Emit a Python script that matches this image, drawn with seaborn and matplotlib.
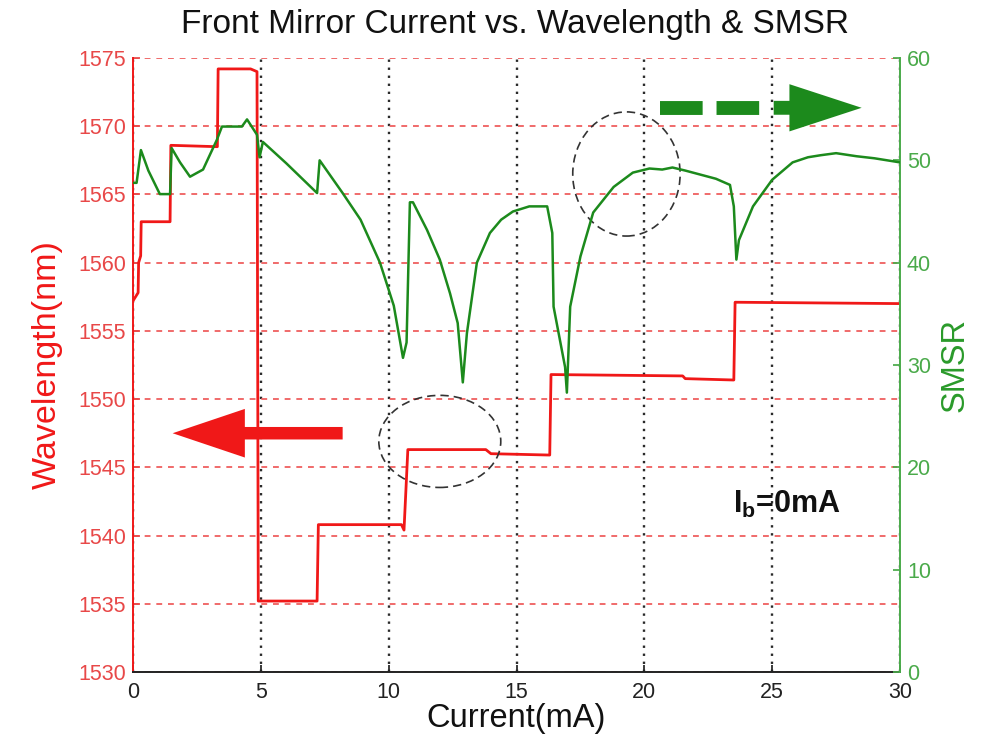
import matplotlib
matplotlib.use("Agg")
import matplotlib.pyplot as plt
from matplotlib.patches import Ellipse
import seaborn as sns
import pandas as pd

# Front mirror current sweep (mA) and lasing wavelength (nm)
current_wl = [0.0, 0.2, 0.22, 0.3, 0.32, 1.45, 1.48, 3.3, 3.33, 4.6, 4.85, 4.9,
              7.2, 7.25, 10.5, 10.6, 10.75, 13.8, 14.0, 16.3, 16.35, 21.5, 21.6,
              23.5, 23.55, 30.0]
wavelength = [1557.2, 1557.8, 1560.0, 1560.5, 1563.0, 1563.0, 1568.6, 1568.5,
              1574.2, 1574.2, 1574.0, 1535.2, 1535.2, 1540.8, 1540.8, 1540.4,
              1546.3, 1546.3, 1546.0, 1545.9, 1551.8, 1551.7, 1551.5, 1551.4,
              1557.1, 1557.0]

# Side-mode suppression ratio (dB) over the same sweep
current_smsr = [0.0, 0.14, 0.31, 0.6, 1.05, 1.45, 1.51, 1.84, 2.23, 2.74,
                3.0, 3.28, 3.48, 3.9, 4.26, 4.46, 4.85, 4.95, 5.08, 6.0,
                7.2, 7.3, 8.2, 8.9, 9.66, 10.2, 10.56, 10.7, 10.83, 10.95,
                11.5, 12.0, 12.4, 12.7, 12.9, 13.06, 13.45, 13.96, 14.4, 14.86,
                15.5, 16.2, 16.4, 16.45, 16.9, 16.97, 17.1, 17.5, 18.0, 18.8,
                19.55, 20.2, 20.7, 21.1, 21.6, 22.2, 22.8, 23.35, 23.5, 23.6,
                23.7, 24.25, 25.0, 25.8, 26.4, 26.9, 27.5, 28.3, 29.0, 30.0]
smsr = [47.8, 47.8, 51.0, 49.0, 46.7, 46.7, 51.2, 49.8, 48.4, 49.1,
        50.5, 52.0, 53.3, 53.3, 53.3, 54.0, 52.5, 50.3, 51.8, 49.7,
        46.8, 50.0, 46.8, 44.2, 40.0, 35.8, 30.7, 32.2, 45.9, 45.9,
        43.2, 40.3, 37.0, 34.1, 28.3, 33.1, 40.0, 42.9, 44.2, 45.0,
        45.5, 45.5, 42.9, 35.7, 29.8, 27.3, 35.7, 40.6, 44.9, 47.4,
        48.8, 49.2, 49.1, 49.3, 49.0, 48.6, 48.2, 47.6, 45.5, 40.3,
        42.2, 45.5, 48.1, 49.8, 50.3, 50.5, 50.7, 50.4, 50.2, 49.8]

x_ticks = [0, 5, 10, 15, 20, 25, 30]
wl_ticks = [1530, 1535, 1540, 1545, 1550, 1555, 1560, 1565, 1570, 1575]
smsr_ticks = [0, 10, 20, 30, 40, 50, 60]

RED = "#f01818"
RED_TXT = "#e84848"
GREEN = "#1c8a1c"
GREEN_AX = "#4aaa4a"

sns.set_theme(style="white")
plt.rcParams["font.family"] = ["Liberation Sans", "DejaVu Sans"]
plt.rcParams["mathtext.fontset"] = "custom"
plt.rcParams["mathtext.rm"] = "Liberation Sans"
plt.rcParams["mathtext.bf"] = "Liberation Sans:bold"

fig = plt.figure(figsize=(9.89, 7.53), dpi=100)
ax = fig.add_axes([133 / 989, 1 - 672 / 753, 767 / 989, 614 / 753])
ax2 = ax.twinx()

df_wl = pd.DataFrame({"current": current_wl, "wavelength": wavelength})
df_sm = pd.DataFrame({"current": current_smsr, "smsr": smsr})

sns.lineplot(data=df_wl, x="current", y="wavelength", ax=ax, color=RED,
             lw=2.0, estimator=None, sort=False, zorder=3)
sns.lineplot(data=df_sm, x="current", y="smsr", ax=ax2, color=GREEN,
             lw=1.8, estimator=None, sort=False, zorder=3)

ax.set_xlim(0, 30)
ax.set_ylim(1530, 1575)
ax2.set_ylim(0, 60)
ax.set_xticks(x_ticks)
ax.set_yticks(wl_ticks)
ax2.set_yticks(smsr_ticks)

# grid: red dashed horizontals, black dotted verticals
ax.yaxis.grid(True, color="#f06a6a", ls=(0, (3, 3)), lw=1.4)
ax.xaxis.grid(True, color="#2a2a2a", ls=(0, (1, 2.4)), lw=1.7)
ax.set_axisbelow(True)

for s in ("top", "right"):
    ax.spines[s].set_visible(False)
for s in ("top", "left"):
    ax2.spines[s].set_visible(False)
ax.spines["left"].set_color(RED)
ax.spines["left"].set_linewidth(1.4)
ax.spines["bottom"].set_color("#222222")
ax.spines["bottom"].set_linewidth(1.4)
ax2.spines["right"].set_color(GREEN_AX)
ax2.spines["right"].set_linewidth(1.4)
ax2.spines["bottom"].set_visible(False)

ax.tick_params(axis="y", colors=RED_TXT, direction="in", length=5, labelsize=15.5, pad=5, left=True, right=False)
ax.tick_params(axis="x", colors="#222222", direction="in", length=5, labelsize=15.5, pad=7, bottom=True)
ax2.tick_params(axis="y", colors=GREEN_AX, direction="in", length=5, labelsize=15.5, pad=5, right=True)

ax.set_xlabel("Current(mA)", fontsize=23.5, color="#111111")
ax.xaxis.set_label_coords(0.5, -0.075)
ax.xaxis.label.set_va("center")
ax.set_ylabel("Wavelength(nm)", fontsize=24.5, color=RED)
ax.yaxis.set_label_coords(-0.112, 0.5)
ax.yaxis.label.set_va("center")
ax2.set_ylabel("SMSR", fontsize=23.5, color="#2a9a2a")
ax2.yaxis.set_label_coords(1.072, 0.5)
ax2.yaxis.label.set_va("center")

fig.text(515 / 989, 1 - 25 / 753, "Front Mirror Current vs. Wavelength & SMSR",
         ha="center", va="center", fontsize=24, color="#111111")

# arrows pointing to the axis each curve belongs to
ax.annotate("", xy=(1.55, 1547.5), xytext=(8.2, 1547.5),
            arrowprops=dict(arrowstyle="simple,head_length=52,head_width=35,tail_width=9",
                            mutation_scale=1, color=RED, shrinkA=0, shrinkB=0, lw=0),
            zorder=4)
ax.plot([20.6, 24.95], [1571.35, 1571.35], color=GREEN, lw=10,
        dashes=(3.07, 1.0), solid_capstyle="butt", dash_capstyle="butt", zorder=4)
ax.annotate("", xy=(28.5, 1571.35), xytext=(25.06, 1571.35),
            arrowprops=dict(arrowstyle="simple,head_length=52,head_width=34,tail_width=10",
                            mutation_scale=1, color=GREEN, shrinkA=0, shrinkB=0, lw=0),
            zorder=4)

# highlighted regions
ax.add_patch(Ellipse((12.0, 1546.9), 4.77, 6.75, fill=False, ec="#333333",
                     lw=1.2, ls=(0, (5, 3)), zorder=4))
ax.add_patch(Ellipse((19.3, 1566.5), 4.2, 9.1, fill=False, ec="#333333",
                     lw=1.2, ls=(0, (5, 3)), zorder=4))

ax.text(23.45, 1542.3, r"$\mathbf{I_b}$=0mA", fontsize=22, fontweight="bold",
        color="#111111", ha="left", va="center", zorder=5)

fig.savefig("out.png", dpi=100, facecolor="white")
